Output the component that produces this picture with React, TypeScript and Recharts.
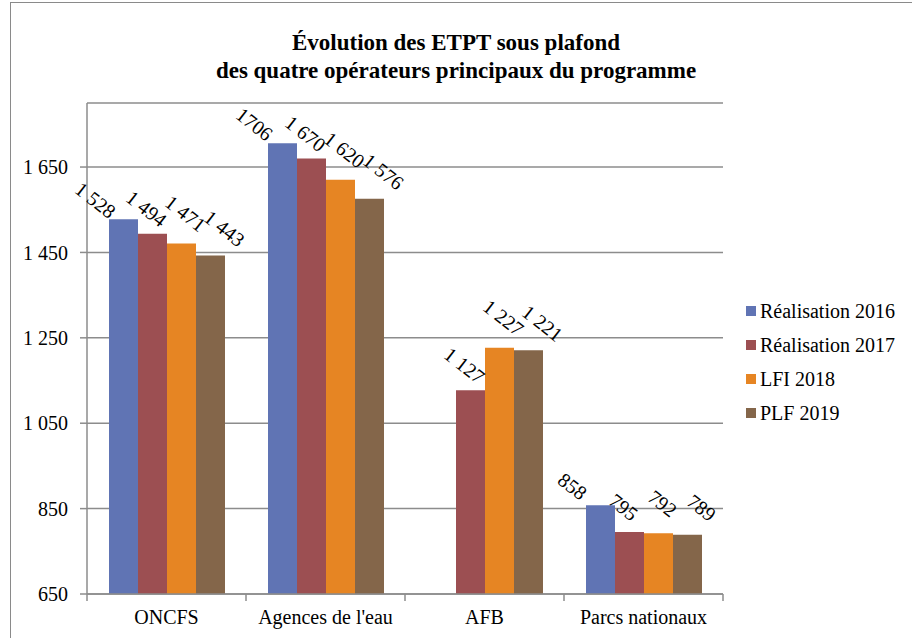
import React from "react";
import {
  Bar,
  BarChart,
  CartesianGrid,
  LabelList,
  XAxis,
  YAxis,
} from "recharts";

const categories = ["ONCFS", "Agences de l'eau", "AFB", "Parcs nationaux"];
const real2016 = [1528, 1706, null, 858];
const real2017 = [1494, 1670, 1127, 795];
const lfi2018 = [1471, 1620, 1227, 792];
const plf2019 = [1443, 1576, 1221, 789];
const labels2016 = ["1 528", "1706", "", "858"];
const labels2017 = ["1 494", "1 670", "1 127", "795"];
const labels2018 = ["1 471", "1 620", "1 227", "792"];
const labels2019 = ["1 443", "1 576", "1 221", "789"];
const yTicks = [650, 850, 1050, 1250, 1450, 1650];

const series = [
  { key: "r2016", name: "Réalisation 2016", color: "#6074B4", values: real2016, labels: labels2016, dx: -28, dy: -19 },
  { key: "r2017", name: "Réalisation 2017", color: "#9C4F52", values: real2017, labels: labels2017, dx: -6, dy: -25 },
  { key: "l2018", name: "LFI 2018", color: "#E68523", values: lfi2018, labels: labels2018, dx: 4, dy: -30 },
  { key: "p2019", name: "PLF 2019", color: "#84664A", values: plf2019, labels: labels2019, dx: 14, dy: -27 },
];

const data = categories.map((name, i) => {
  const row: Record<string, any> = { name };
  series.forEach((s) => {
    row[s.key] = s.values[i];
    row[s.key + "_lbl"] = s.labels[i];
  });
  return row;
});

const FONT = '"Liberation Serif", Tinos, "Times New Roman", Times, "DejaVu Serif", serif';
const GRID = "#8c8c8c";
const PLOT_LEFT = 87;
const PLOT_RIGHT = 723;
const BAND = (PLOT_RIGHT - PLOT_LEFT) / categories.length;
const FS = 20;

const fmt = (v: number) => {
  const s = String(v);
  return s.length > 3 ? s.slice(0, s.length - 3) + " " + s.slice(-3) : s;
};

function XTick(props: any) {
  const { x, y, payload, index } = props;
  const left = x - BAND / 2;
  return (
    <g>
      <line x1={left} y1={y} x2={left} y2={y + 7} stroke={GRID} strokeWidth={1.5} />
      {index === categories.length - 1 && (
        <line x1={x + BAND / 2} y1={y} x2={x + BAND / 2} y2={y + 7} stroke={GRID} strokeWidth={1.5} />
      )}
      <text x={x} y={y + 30} textAnchor="middle" style={{ fontFamily: FONT }} fontSize={FS} fill="#000">
        {payload.value}
      </text>
    </g>
  );
}

function makeLabel(dx: number, dy: number) {
  return (props: any) => {
    const { x, y, width, value } = props;
    if (!value) return null;
    const cx = x + width / 2 + dx;
    const cy = y + dy;
    return (
      <text
        x={cx}
        y={cy}
        textAnchor="middle"
        dominantBaseline="central"
        style={{ fontFamily: FONT }}
        fontSize={FS}
        fill="#000"
        transform={`rotate(38 ${cx} ${cy})`}
      >
        {value}
      </text>
    );
  };
}

function LegendBox() {
  return (
    <div
      style={{
        position: "absolute",
        left: 746,
        top: 294,
        fontFamily: FONT,
        fontSize: FS,
        color: "#000",
      }}
    >
      {series.map((s) => (
        <div key={s.key} style={{ display: "flex", alignItems: "center", height: 34 }}>
          <span
            style={{ display: "inline-block", width: 10, height: 10, background: s.color, marginRight: 4 }}
          />
          <span>{s.name}</span>
        </div>
      ))}
    </div>
  );
}

export default function App() {
  return (
    <div
      style={{
        position: "absolute",
        left: 0,
        top: 0,
        width: 912,
        height: 638,
        overflow: "hidden",
        background: "#fff",
        fontFamily: FONT,
      }}
    >
      <div
        style={{
          position: "absolute",
          left: 10,
          top: 2,
          width: 1000,
          height: 1000,
          border: "1.5px solid #8a8a8a",
        }}
      />
      <div
        style={{
          position: "absolute",
          left: 0,
          top: 29,
          width: 912,
          textAlign: "center",
          fontWeight: "bold",
          fontSize: 23,
          lineHeight: "28px",
          color: "#000",
        }}
      >
        Évolution des ETPT sous plafond
        <br />
        des quatre opérateurs principaux du programme
      </div>
      <div style={{ position: "absolute", left: 0, top: 0 }}>
        <BarChart
          width={912}
          height={638}
          data={data}
          margin={{ top: 103, right: 912 - PLOT_RIGHT, bottom: 0, left: 0 }}
          barSize={29}
          barGap={0}
        >
          <CartesianGrid vertical={false} stroke={GRID} strokeWidth={1.5} />
          <XAxis
            dataKey="name"
            height={44}
            interval={0}
            axisLine={{ stroke: GRID, strokeWidth: 1.5 }}
            tickLine={false}
            tickSize={0}
            tickMargin={0}
            tick={<XTick />}
          />
          <YAxis
            width={PLOT_LEFT}
            domain={[650, 1800]}
            ticks={yTicks}
            allowDataOverflow
            axisLine={{ stroke: GRID, strokeWidth: 1.5 }}
            tickLine={{ stroke: GRID, strokeWidth: 1.5 }}
            tickSize={7}
            tickMargin={12}
            tickFormatter={fmt}
            tick={{ style: { fontFamily: FONT }, fontSize: FS, fill: "#000" }}
          />
          {series.map((s) => (
            <Bar key={s.key} dataKey={s.key} name={s.name} fill={s.color} isAnimationActive={false}>
              <LabelList dataKey={s.key + "_lbl"} content={makeLabel(s.dx, s.dy)} />
            </Bar>
          ))}
        </BarChart>
      </div>
      <LegendBox />
    </div>
  );
}
